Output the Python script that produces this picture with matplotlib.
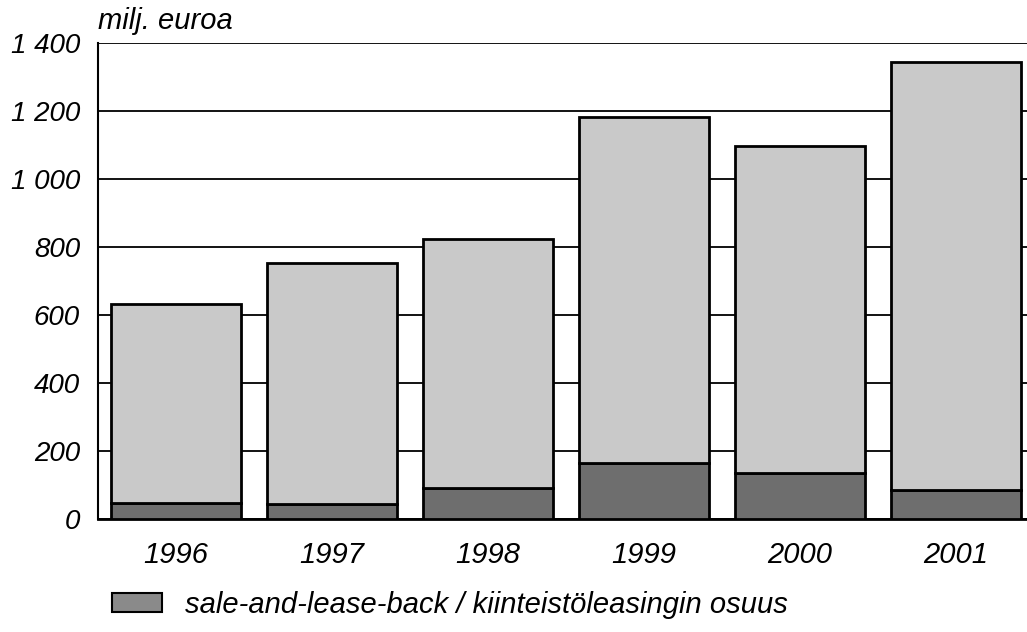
import matplotlib
matplotlib.use("Agg")
import matplotlib.pyplot as plt
from matplotlib.patches import Patch

years = ["1996", "1997", "1998", "1999", "2000", "2001"]
slb = [47, 44, 91, 165, 135, 85]
total = [632, 753, 824, 1182, 1097, 1344]
other = [t - s for t, s in zip(total, slb)]
yticks = [0, 200, 400, 600, 800, 1000, 1200, 1400]
ytick_labels = ["0", "200", "400", "600", "800", "1 000", "1 200", "1 400"]
legend_label = "sale-and-lease-back / kiinteistöleasingin osuus"
unit_label = "milj. euroa"

plt.rcParams['font.family'] = ['Liberation Sans', 'DejaVu Sans']

fig = plt.figure(figsize=(10.27, 6.32), dpi=100)
ax = fig.add_axes([98/1027, 113/632, 936/1027, 476/632])

x = list(range(len(years)))
ax.bar(x, slb, width=0.83, color="#6e6e6e", edgecolor="black", linewidth=2, zorder=3)
ax.bar(x, other, bottom=slb, width=0.83, color="#c9c9c9", edgecolor="black", linewidth=2, zorder=3)

ax.set_xlim(-0.5, 5.5)
ax.set_ylim(0, 1400)
ax.set_yticks(yticks)
ax.set_yticklabels(ytick_labels, fontsize=20, style="italic")
ax.set_xticks(x)
ax.set_xticklabels(years, fontsize=21, style="italic")
ax.tick_params(axis="y", length=0, pad=13)
ax.tick_params(axis="x", length=0, pad=16)
ax.yaxis.grid(True, color="black", linewidth=1.3, zorder=0)
ax.set_axisbelow(True)
for s in ["top", "right"]:
    ax.spines[s].set_visible(False)
ax.spines["left"].set_linewidth(1.5)
ax.spines["bottom"].set_linewidth(2)

fig.text(98/1027, 1 - 21/632, unit_label, fontsize=21, style="italic", ha="left", va="center")

fig.legend(handles=[Patch(facecolor="#8a8a8a", edgecolor="black", linewidth=1.5)],
           labels=[legend_label], loc="center left",
           bbox_to_anchor=(112/1027, 1 - 605/632), frameon=False,
           prop={"size": 21, "style": "italic"}, handlelength=1.7, handleheight=0.6,
           handletextpad=0.8, borderpad=0, borderaxespad=0)

fig.savefig("out.png", dpi=100)
